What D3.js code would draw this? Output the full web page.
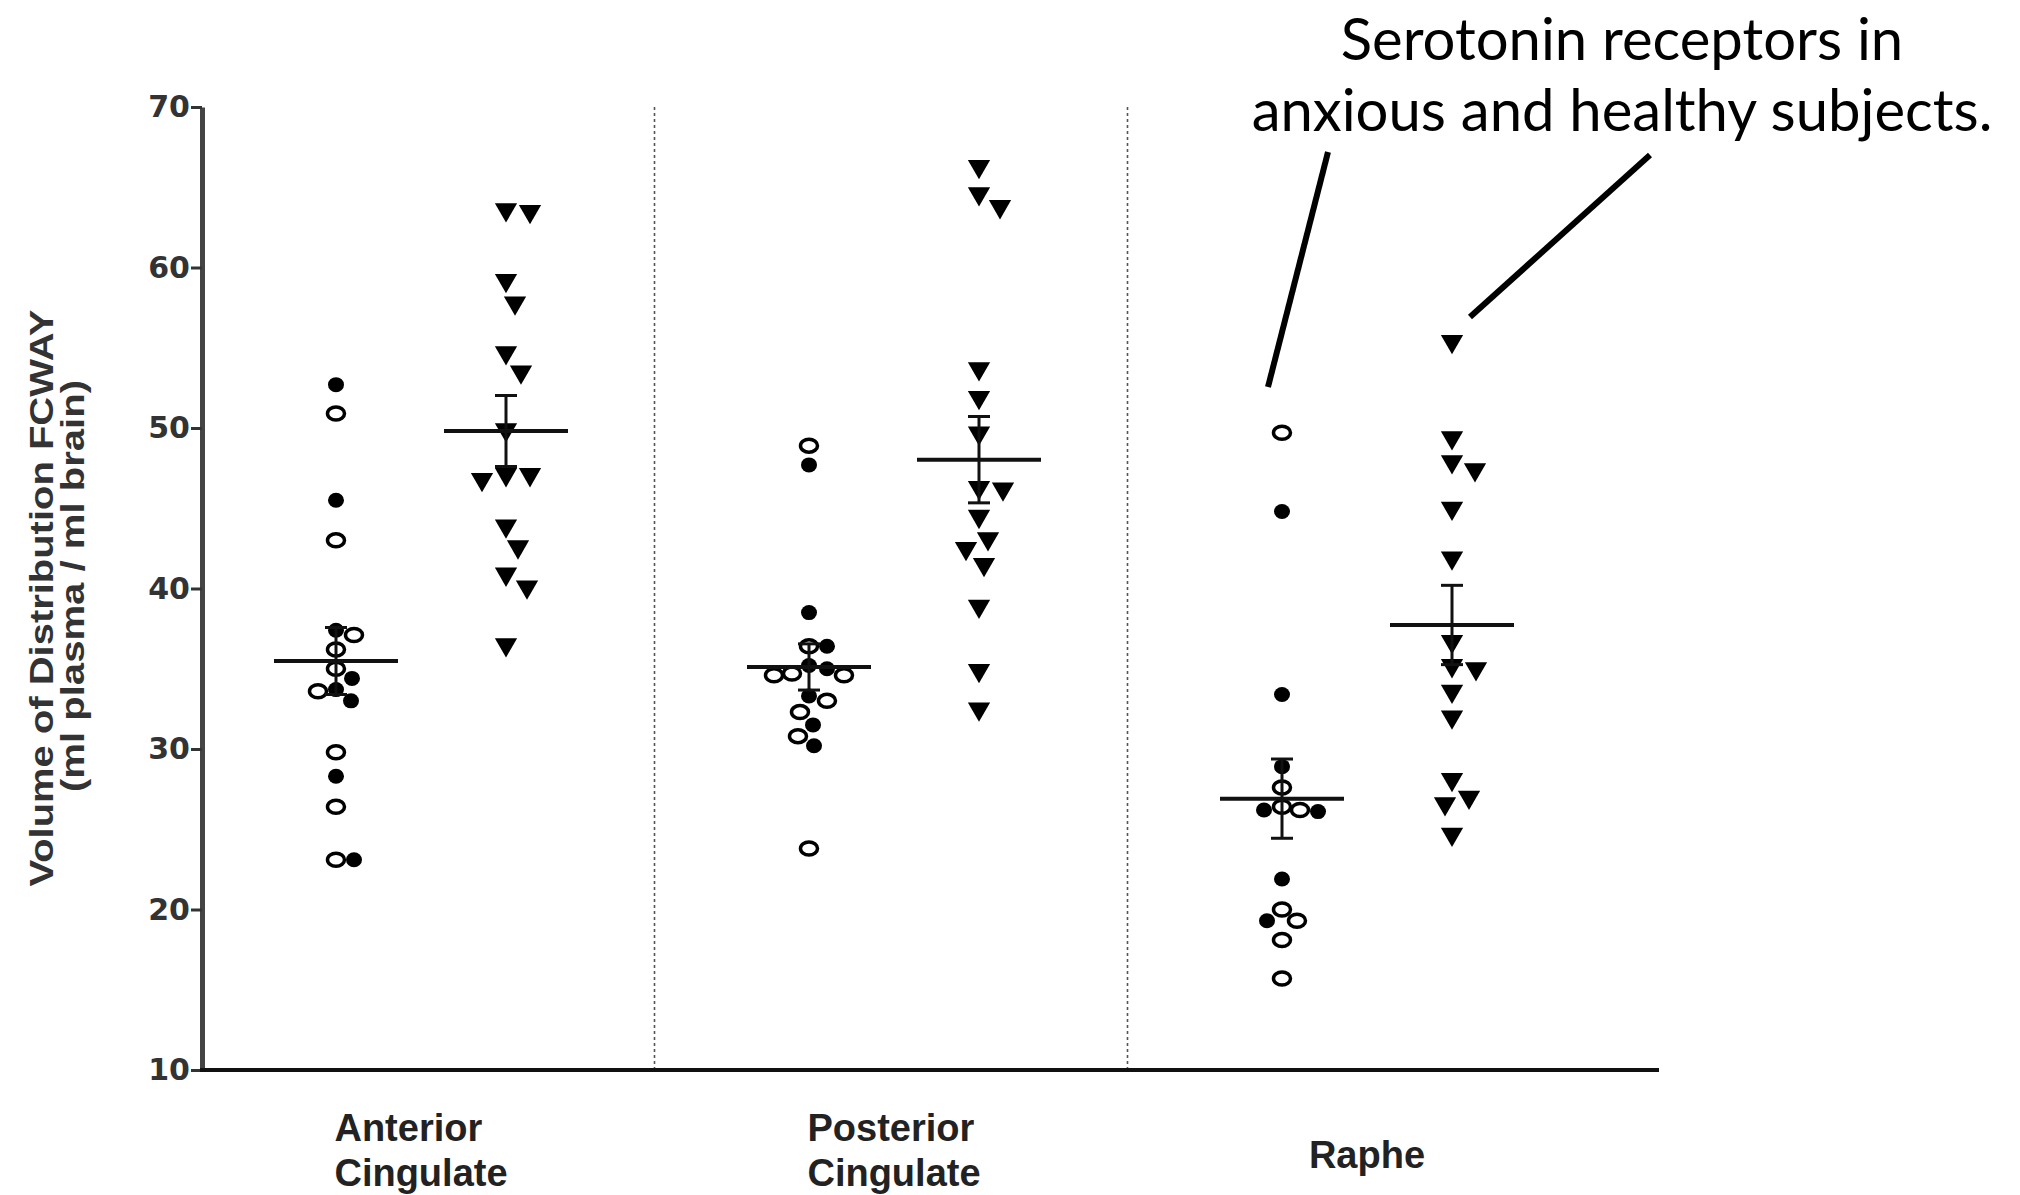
<!DOCTYPE html>
<html>
<head>
<meta charset="utf-8">
<script src="https://cdn.jsdelivr.net/npm/d3@7"></script>
<style>
	body { margin: 0; background: #fff; }
	svg { display: block; }
</style>
</head>
<body>
<div class="plot"></div>
<script>
// regions on the x axis
const regions = ['Anterior Cingulate', 'Posterior Cingulate', 'Raphe'];
const groups = ['anxious', 'healthy'];
const yTicks = [10, 20, 30, 40, 50, 60, 70];

// anxious subjects, open circles
const acOpen = [50.9, 43.0, 37.1, 36.2, 35.0, 33.6, 29.8, 26.4, 23.1];
const pcOpen = [48.9, 36.4, 34.7, 34.6, 34.6, 33.0, 32.3, 30.8, 23.8];
const raOpen = [49.7, 27.6, 26.4, 26.2, 20.0, 19.3, 18.1, 15.7];

// anxious subjects, filled circles
const acFilled = [52.7, 45.5, 37.4, 34.4, 33.7, 33.0, 28.3, 23.1];
const pcFilled = [47.7, 38.5, 36.4, 35.2, 35.0, 33.3, 31.5, 30.2];
const raFilled = [44.8, 33.4, 28.9, 26.2, 26.1, 21.9, 19.3];

// healthy subjects, triangles
const acHealthy = [63.6, 63.5, 59.2, 57.8, 54.7, 53.5, 49.9, 47.1, 47.1, 46.8, 43.9, 42.6, 40.9, 40.1, 36.5];
const pcHealthy = [66.3, 64.6, 63.8, 53.7, 51.9, 49.7, 46.3, 46.2, 44.5, 43.1, 42.5, 41.5, 38.9, 34.9, 32.5];
const raHealthy = [55.4, 49.4, 47.9, 47.4, 45.0, 41.9, 36.7, 35.2, 35.0, 33.6, 32.0, 28.1, 27.0, 26.6, 24.7];

const openByRegion = [acOpen, pcOpen, raOpen];
const filledByRegion = [acFilled, pcFilled, raFilled];
const healthyByRegion = [acHealthy, pcHealthy, raHealthy];

const annotation = ['Serotonin receptors in', 'anxious and healthy subjects.'];
const yTitle = ['Volume of Distribution FCWAY', '(ml plasma / ml brain)'];

const width = 2020;
const height = 1195;
const plotLeft = 202, plotRight = 1659, plotTop = 107, plotBottom = 1070;

const svg = d3.select('.plot')
	.append('svg')
	.attr('width', width)
	.attr('height', height);

const y = d3.scaleLinear().domain([10, 70]).range([plotBottom, plotTop]);
const x = d3.scalePoint().domain(regions).range([421, 1367]);
const sub = d3.scalePoint().domain(groups).range([-85, 85]);

// spread points sideways so they do not sit on top of each other
function dodge(items, minDist) {
	const placed = [];
	items.sort((a, b) => b.value - a.value);
	items.forEach(d => {
		const cy = y(d.value);
		let off = 0;
		for (let k = 0; k < 400; k++) {
			const cand = k === 0 ? 0 : (k % 2 ? (k + 1) / 2 : -k / 2);
			if (placed.every(p => Math.hypot(p.dx - cand, p.cy - cy) >= minDist)) {
				off = cand;
				break;
			}
		}
		d.dx = off;
		d.cy = cy;
		placed.push(d);
	});
	return items;
}

function stats(values) {
	const m = d3.mean(values);
	const sem = d3.deviation(values) / Math.sqrt(values.length);
	return { mean: m, sem: sem };
}

let anxiousPts = [];
let healthyPts = [];
const summary = [];
regions.forEach((r, i) => {
	const a = openByRegion[i].map(v => ({ region: r, value: v, filled: false }))
		.concat(filledByRegion[i].map(v => ({ region: r, value: v, filled: true })));
	anxiousPts = anxiousPts.concat(dodge(a, 18));
	const h = healthyByRegion[i].map(v => ({ region: r, value: v }));
	healthyPts = healthyPts.concat(dodge(h, 24));
	const sa = stats(openByRegion[i].concat(filledByRegion[i]));
	const sh = stats(healthyByRegion[i]);
	summary.push({ region: r, group: 'anxious', mean: sa.mean, sem: sa.sem });
	summary.push({ region: r, group: 'healthy', mean: sh.mean, sem: sh.sem });
});

// dotted separators between regions
const seps = d3.pairs(regions).map(p => (x(p[0]) + x(p[1])) / 2 - 3);
svg.selectAll('.sep')
	.data(seps)
	.enter()
	.append('line')
	.attr('x1', d => d).attr('x2', d => d)
	.attr('y1', plotTop).attr('y2', plotBottom)
	.attr('stroke', '#555')
	.attr('stroke-width', 1.6)
	.attr('stroke-dasharray', '3,3');

// y axis
const yAxis = svg.append('g')
	.attr('transform', `translate(${plotLeft},0)`)
	.call(d3.axisLeft(y).tickValues(yTicks).tickSize(11).tickSizeOuter(0).tickPadding(1));
yAxis.select('.domain').attr('stroke', '#444').attr('stroke-width', 5);
yAxis.selectAll('.tick line').attr('stroke', '#333').attr('stroke-width', 3);
yAxis.selectAll('.tick text')
	.attr('fill', '#333')
	.style('font-family', '"DejaVu Sans", sans-serif')
	.style('font-weight', 'bold')
	.style('font-size', '30px');

// x axis line
svg.append('line')
	.attr('x1', plotLeft - 2).attr('x2', plotRight)
	.attr('y1', y(10)).attr('y2', y(10))
	.attr('stroke', '#111')
	.attr('stroke-width', 4);

// category labels: lines left aligned, block centred under the region
const catLabels = svg.selectAll('.cat')
	.data(regions)
	.enter()
	.append('text')
	.attr('y', d => d.split(' ').length > 1 ? 1141 : 1168)
	.attr('text-anchor', 'start')
	.attr('fill', '#222')
	.style('font-family', '"Liberation Sans", Arial, sans-serif')
	.style('font-weight', 'bold')
	.style('font-size', '38px');
catLabels.each(function (d) {
	const words = d.split(' ');
	const t = d3.select(this);
	t.selectAll('tspan')
		.data(words)
		.enter()
		.append('tspan')
		.attr('x', 0)
		.attr('dy', (w, i) => i === 0 ? 0 : 45)
		.text(w => w);
	const w = this.getBBox().width;
	t.attr('transform', `translate(${x(d) - w / 2},0)`);
});

// y axis title
const titleLen = [577, 412];
svg.selectAll('.ytitle')
	.data(yTitle)
	.enter()
	.append('text')
	.attr('transform', (d, i) => `translate(${53 + i * 31},${598 - i * 12}) rotate(-90)`)
	.attr('text-anchor', 'middle')
	.attr('fill', '#333')
	.attr('textLength', (d, i) => titleLen[i])
	.attr('lengthAdjust', 'spacingAndGlyphs')
	.style('font-family', '"Liberation Sans", Arial, sans-serif')
	.style('font-weight', 'bold')
	.style('font-size', '34px')
	.text(d => d);

// anxious: open and filled circles
svg.selectAll('.anx')
	.data(anxiousPts)
	.enter()
	.append('ellipse')
	.attr('cx', d => x(d.region) + sub('anxious') + d.dx)
	.attr('cy', d => d.cy)
	.attr('rx', d => d.filled ? 8 : 8.5)
	.attr('ry', d => d.filled ? 7.5 : 6.5)
	.attr('fill', d => d.filled ? '#000' : '#fff')
	.attr('stroke', '#000')
	.attr('stroke-width', d => d.filled ? 0 : 3.5);

// healthy: downward triangles
const tri = d3.symbol().type(d3.symbolTriangle).size(215);
svg.selectAll('.hea')
	.data(healthyPts)
	.enter()
	.append('path')
	.attr('d', tri)
	.attr('transform', d => `translate(${x(d.region) + sub('healthy') + d.dx},${d.cy}) rotate(180)`)
	.attr('fill', '#000');

// mean lines and SEM error bars
const sg = svg.selectAll('.sum')
	.data(summary)
	.enter()
	.append('g')
	.attr('transform', d => `translate(${x(d.region) + sub(d.group)},0)`);
sg.append('line')
	.attr('x1', -62).attr('x2', 62)
	.attr('y1', d => y(d.mean)).attr('y2', d => y(d.mean))
	.attr('stroke', '#111').attr('stroke-width', 4);
sg.append('line')
	.attr('x1', 0).attr('x2', 0)
	.attr('y1', d => y(d.mean + d.sem)).attr('y2', d => y(d.mean - d.sem))
	.attr('stroke', '#111').attr('stroke-width', 3);
sg.selectAll('.cap')
	.data(d => [d.mean + d.sem, d.mean - d.sem])
	.enter()
	.append('line')
	.attr('x1', -11).attr('x2', 11)
	.attr('y1', d => y(d)).attr('y2', d => y(d))
	.attr('stroke', '#111').attr('stroke-width', 3);

// annotation text and pointer lines
svg.selectAll('.note')
	.data(annotation)
	.enter()
	.append('text')
	.attr('x', 1622)
	.attr('y', (d, i) => 60 + i * 71)
	.attr('text-anchor', 'middle')
	.attr('fill', '#000')
	.style('font-family', 'Lato, "Open Sans", sans-serif')
	.style('font-size', '58px')
	.text(d => d);

const pointers = [
	[[1328, 152], [1268, 387]],
	[[1650, 155], [1470, 317]]
];
svg.selectAll('.ptr')
	.data(pointers)
	.enter()
	.append('line')
	.attr('x1', d => d[0][0]).attr('y1', d => d[0][1])
	.attr('x2', d => d[1][0]).attr('y2', d => d[1][1])
	.attr('stroke', '#000')
	.attr('stroke-width', 6);
</script>
</body>
</html>
